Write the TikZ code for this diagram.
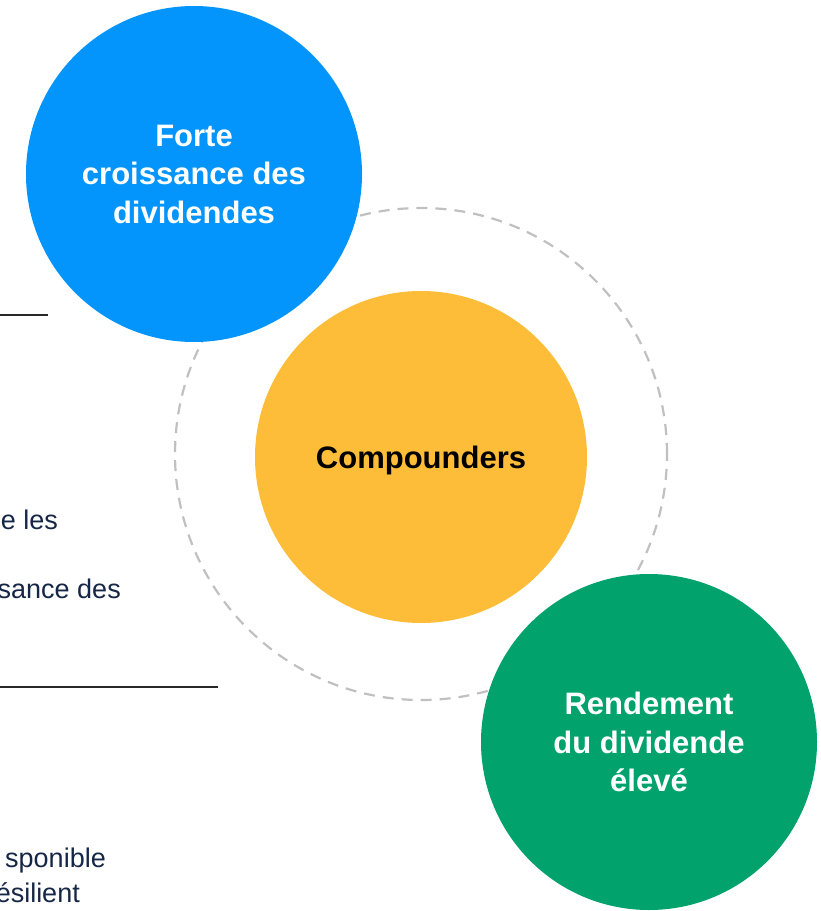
\documentclass[tikz,border=0pt]{standalone}
\usepackage{fontspec}
\setmainfont{Liberation Sans}
\definecolor{cblue}{RGB}{3,148,252}
\definecolor{corange}{RGB}{253,189,57}
\definecolor{cgreen}{RGB}{2,162,108}
\definecolor{cring}{RGB}{192,192,192}
\definecolor{cnavy}{RGB}{22,38,70}
\definecolor{crule}{RGB}{40,40,40}
\begin{document}
\begin{tikzpicture}[x=1pt,y=-1pt]
\tikzset{
  bubble/.style={circle, inner sep=0pt, minimum size=#1, align=center,
    font=\bfseries\fontsize{31}{38.5}\selectfont},
  ring/.style={circle, inner sep=0pt, minimum size=#1, draw=cring,
    line width=2.2pt, dash pattern=on 11pt off 8pt},
  sidetext/.style={anchor=base east, inner sep=0pt, text=cnavy,
    font=\fontsize{27}{32}\selectfont},
  rule/.style={draw=crule, line width=1.4pt}
}
\useasboundingbox (0,0) rectangle (820,911);
% dashed orbit
\node[ring=492pt] (orbit) at (421,454) {};
% bubbles
\node[bubble=336pt, fill=cblue, text=white] (growth) at (194,174)
  {Forte\\croissance des\\dividendes};
\node[bubble=332pt, fill=corange, text=black, text depth=0pt] (comp) at (421,457)
  {Compounders};
\node[bubble=336pt, fill=cgreen, text=white] (yield) at (649,742)
  {Rendement\\du dividende\\élevé};
% clipped side texts
\node[sidetext] (t1) at (58,529) {e les};
\node[sidetext] (t2) at (121,598) {sance des};
\node[sidetext] (t3) at (106,867) {sponible};
\node[sidetext] (t4) at (80,902) {ésilient};
% rules
\coordinate (r1a) at (0,315);
\coordinate (r1b) at (48,315);
\coordinate (r2a) at (0,687);
\coordinate (r2b) at (218,687);
\draw[rule] (r1a) -- (r1b);
\draw[rule] (r2a) -- (r2b);
\end{tikzpicture}
\end{document}
